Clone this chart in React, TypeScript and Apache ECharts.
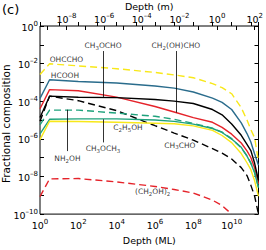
import React, { useEffect, useRef } from 'react';
import * as echarts from 'echarts';

// Depth in monolayers (ML), common sample points for every curve
const depthML = [1, 3.16, 100, 1e4, 1e6, 1e7, 1e8, 1e9, 3.16e9, 1e10, 3.16e10, 6.3e10, 1e11, 1.58e11, 2.5e11];

// Fractional compositions
const OHCCHO = [2.63e-3, 9.77e-3, 7.59e-3, 5.37e-3, 3.39e-3, 2.51e-3, 1.78e-3, 8.71e-4, 5.25e-4, 2.51e-4, 4.57e-5, 1e-5, 3.09e-6, 1.12e-6, 6.31e-8];
const HCOOH = [1.41e-4, 1.38e-3, 1.12e-3, 9.33e-4, 6.46e-4, 5.01e-4, 3.09e-4, 1.45e-4, 8.71e-5, 3.63e-5, 7.08e-6, 1.91e-6, 6.76e-7, 1.58e-7, 3.98e-8];
const CH3OCHO = [1.38e-5, 1.86e-4, 1.62e-4, 1.55e-4, 1.23e-4, 1.02e-4, 7.59e-5, 3.63e-5, 1.91e-5, 6.17e-6, 1.55e-6, 5.13e-7, 2.4e-7, 5.01e-8, 6.31e-9];
const CH2OHCHO = [3.98e-5, 4.17e-4, 3.63e-4, 1.66e-4, 5.25e-5, 2.69e-5, 1.35e-5, 7.59e-6, 4.07e-6, 1.78e-6, 6.03e-7, 2.29e-7, 1.02e-7, 2.82e-8, 3.98e-9];
const NH2OH = [5.62e-6, 3.39e-5, 3.39e-5, 2.34e-5, 1.58e-5, 1.1e-5, 6.61e-6, 3.72e-6, 2.29e-6, 1.02e-6, 3.24e-7, 1.26e-7, 5.25e-8, 1.66e-8, 2.63e-9];
const CH3OCH3 = [1.86e-6, 1.1e-5, 1.15e-5, 1.15e-5, 1e-5, 8.51e-6, 6.03e-6, 3.55e-6, 2.19e-6, 9.77e-7, 3.55e-7, 1.2e-7, 5.01e-8, 1.58e-8, 2.51e-9];
const C2H5OH = [9.12e-7, 8.71e-6, 8.32e-6, 7.59e-6, 6.76e-6, 6.31e-6, 4.9e-6, 2.82e-6, 1.51e-6, 6.31e-7, 1.66e-7, 5.37e-8, 2.29e-8, 5.89e-9, 8.91e-10];
const CH3CHO = [8.71e-6, 1.86e-4, 1.07e-4, 3.16e-5, 5.01e-6, 2.04e-6, 8.51e-7, 3.02e-7, 1.74e-7, 8.51e-8, 2.95e-8, 1.12e-8, 3.47e-9, 8.91e-10, 1e-10];
const CH2OH2 = [8.51e-10, 7.41e-9, 7.76e-9, 5.13e-9, 2.95e-9, 2.04e-9, 1.32e-9, 5.5e-10, 2.82e-10, 1e-10, null, null, null, null, null];

// Axis ranges (decades)
const ML_MAX_EXP = 11.4; // log10 of right edge, ML
const FRAC_MIN_EXP = -10;
const FRAC_MAX_EXP = 0;
const ML_IN_M_EXP = -9.4; // log10 of 1 ML expressed in metres
const M_MAX_EXP = 2;

// Annotation labels (anchor in log10 axis space) and pointer lines
const labels = [
  { text: 'OHCCHO', x: 1.38, y: -1.79 },
  { text: 'HCOOH', x: 1.3, y: -2.62 },
  { text: 'CH{s|3}OCHO', x: 3.29, y: -1.06 },
  { text: 'CH{s|2}(OH)CHO', x: 7.09, y: -1.06 },
  { text: 'NH{s|2}OH', x: 1.43, y: -7.07 },
  { text: 'CH{s|3}OCH{s|3}', x: 3.29, y: -6.52 },
  { text: 'C{s|2}H{s|5}OH', x: 4.59, y: -5.4 },
  { text: 'CH{s|3}CHO', x: 7.3, y: -6.34 },
  { text: '(CH{s|2}OH){s|2}', x: 5.88, y: -8.81 },
];
const pointers = [
  [3.29, -1.33, -3.79],
  [7.09, -1.33, -4.6],
  [1.445, -4.45, -6.65],
  [3.29, -4.96, -6.19],
];

const FONT = 'DejaVu Sans';
const W = 266;
const H = 250;
const G_LEFT = 40;
const G_RIGHT = 7.5;
const G_TOP = 26;
const G_BOTTOM = 28.5;

const YELLOW = '#f8e81a';
const TEAL = '#2a6c8c';
const RED = '#e5232a';
const GREEN = '#1fa27c';
const BLACK = '#000000';

const tickRich = {
  b: { fontSize: 9.5, fontFamily: FONT, color: '#000', lineHeight: 12, verticalAlign: 'bottom' as const },
  s: { fontSize: 7, fontFamily: FONT, color: '#000', lineHeight: 8, verticalAlign: 'top' as const },
};

const expLabel = (v: number) => {
  const n = Math.round(v);
  if (Math.abs(v - n) > 1e-6 || n % 2 !== 0) return '';
  return `{b|10}{s|${n < 0 ? '\u2013' + -n : n}}`;
};

const toLog = (vals: (number | null)[]) =>
  depthML
    .map((d, i) => (vals[i] == null ? null : [Math.log10(d), Math.log10(vals[i] as number)]))
    .filter((p) => p !== null);

const line = (name: string, vals: (number | null)[], color: string, dashed: boolean) => ({
  type: 'line',
  name,
  xAxisIndex: 0,
  yAxisIndex: 0,
  symbol: 'none',
  showSymbol: false,
  silent: true,
  data: toLog(vals),
  lineStyle: { color, width: 1.4, type: dashed ? [7, 4] : 'solid' },
});

export default function App() {
  const ref = useRef<HTMLDivElement>(null);
  useEffect(() => {
    if (!ref.current) return;
    const chart = echarts.init(ref.current, null, { renderer: 'svg' });
    const plotW = W - G_LEFT - G_RIGHT;
    const plotH = H - G_TOP - G_BOTTOM;
    const mMin = Math.ceil(ML_IN_M_EXP);
    const g2Left = G_LEFT + ((mMin - ML_IN_M_EXP) / ML_MAX_EXP) * plotW;

    const tickStyle = { inside: true, length: 4, lineStyle: { color: '#000', width: 1 } };

    chart.setOption({
      animation: false,
      backgroundColor: '#fff',
      textStyle: { fontFamily: FONT },
      grid: [
        { left: G_LEFT, right: G_RIGHT, top: G_TOP, bottom: G_BOTTOM, show: true, borderColor: '#000', borderWidth: 1, backgroundColor: 'transparent' },
        { left: g2Left, right: G_RIGHT, top: G_TOP, bottom: G_BOTTOM, show: false },
      ],
      xAxis: [
        {
          type: 'value', gridIndex: 0, position: 'bottom', min: 0, max: ML_MAX_EXP, interval: 1,
          axisLine: { show: false }, axisTick: tickStyle, splitLine: { show: false },
          axisLabel: { formatter: expLabel, rich: tickRich, margin: 4, showMinLabel: true, showMaxLabel: true },
          name: 'Depth (ML)', nameLocation: 'middle', nameGap: 15,
          nameTextStyle: { fontFamily: FONT, fontSize: 9.5, color: '#000' },
        },
        {
          type: 'value', gridIndex: 1, position: 'top', min: mMin, max: M_MAX_EXP, interval: 1,
          axisLine: { show: false }, axisTick: tickStyle, splitLine: { show: false },
          axisLabel: { formatter: expLabel, rich: tickRich, margin: 2, showMinLabel: true, showMaxLabel: true },
        },
      ],
      yAxis: [
        {
          type: 'value', gridIndex: 0, position: 'left', min: FRAC_MIN_EXP, max: FRAC_MAX_EXP, interval: 1,
          axisLine: { show: false }, axisTick: tickStyle, splitLine: { show: false },
          axisLabel: { formatter: expLabel, rich: tickRich, margin: 2, showMinLabel: true, showMaxLabel: true },
        },
        {
          type: 'value', gridIndex: 0, position: 'right', min: FRAC_MIN_EXP, max: FRAC_MAX_EXP, interval: 1,
          axisLine: { show: false }, axisTick: tickStyle, splitLine: { show: false }, axisLabel: { show: false },
        },
        { type: 'value', gridIndex: 1, show: false, min: FRAC_MIN_EXP, max: FRAC_MAX_EXP },
      ],
      graphic: [
        { type: 'text', left: 2, top: 3, style: { text: '(c)', fontSize: 13, fontFamily: FONT, fill: '#000' } },
        {
          type: 'text', x: G_LEFT + plotW / 2, y: 1,
          style: { text: 'Depth (m)', fontSize: 9.5, fontFamily: FONT, fill: '#000', align: 'center', verticalAlign: 'top' },
        },
        {
          type: 'text', x: 6, y: G_TOP + plotH / 2, rotation: Math.PI / 2,
          style: { text: 'Fractional composition', fontSize: 10.5, fontFamily: FONT, fill: '#000', align: 'center', verticalAlign: 'middle' },
        },
      ],
      series: [
        line('OHCCHO', OHCCHO, YELLOW, true),
        line('HCOOH', HCOOH, TEAL, false),
        line('CH2(OH)CHO', CH2OHCHO, RED, false),
        line('CH3OCHO', CH3OCHO, BLACK, false),
        line('CH3CHO', CH3CHO, BLACK, true),
        line('NH2OH', NH2OH, GREEN, true),
        line('CH3OCH3', CH3OCH3, GREEN, false),
        line('C2H5OH', C2H5OH, YELLOW, false),
        line('(CH2OH)2', CH2OH2, RED, true),
        {
          type: 'scatter',
          xAxisIndex: 0,
          yAxisIndex: 0,
          symbolSize: 0,
          silent: true,
          clip: false,
          data: labels.map((l) => ({
            value: [l.x, l.y],
            label: {
              show: true,
              position: 'inside',
              formatter: l.text,
              color: '#000',
              fontSize: 7.5,
              fontFamily: FONT,
              lineHeight: 10,
              rich: { s: { fontSize: 5.5, fontFamily: FONT, color: '#000', lineHeight: 6, verticalAlign: 'bottom' } },
            },
          })),
          markLine: {
            silent: true,
            symbol: 'none',
            label: { show: false },
            lineStyle: { color: '#000', width: 0.8, type: 'solid' },
            data: pointers.map((p) => [{ coord: [p[0], p[1]] }, { coord: [p[0], p[2]] }]),
          },
        },
      ],
    });
    return () => chart.dispose();
  }, []);
  return <div ref={ref} style={{ position: 'fixed', left: 0, top: 0, width: W, height: H }} />;
}
